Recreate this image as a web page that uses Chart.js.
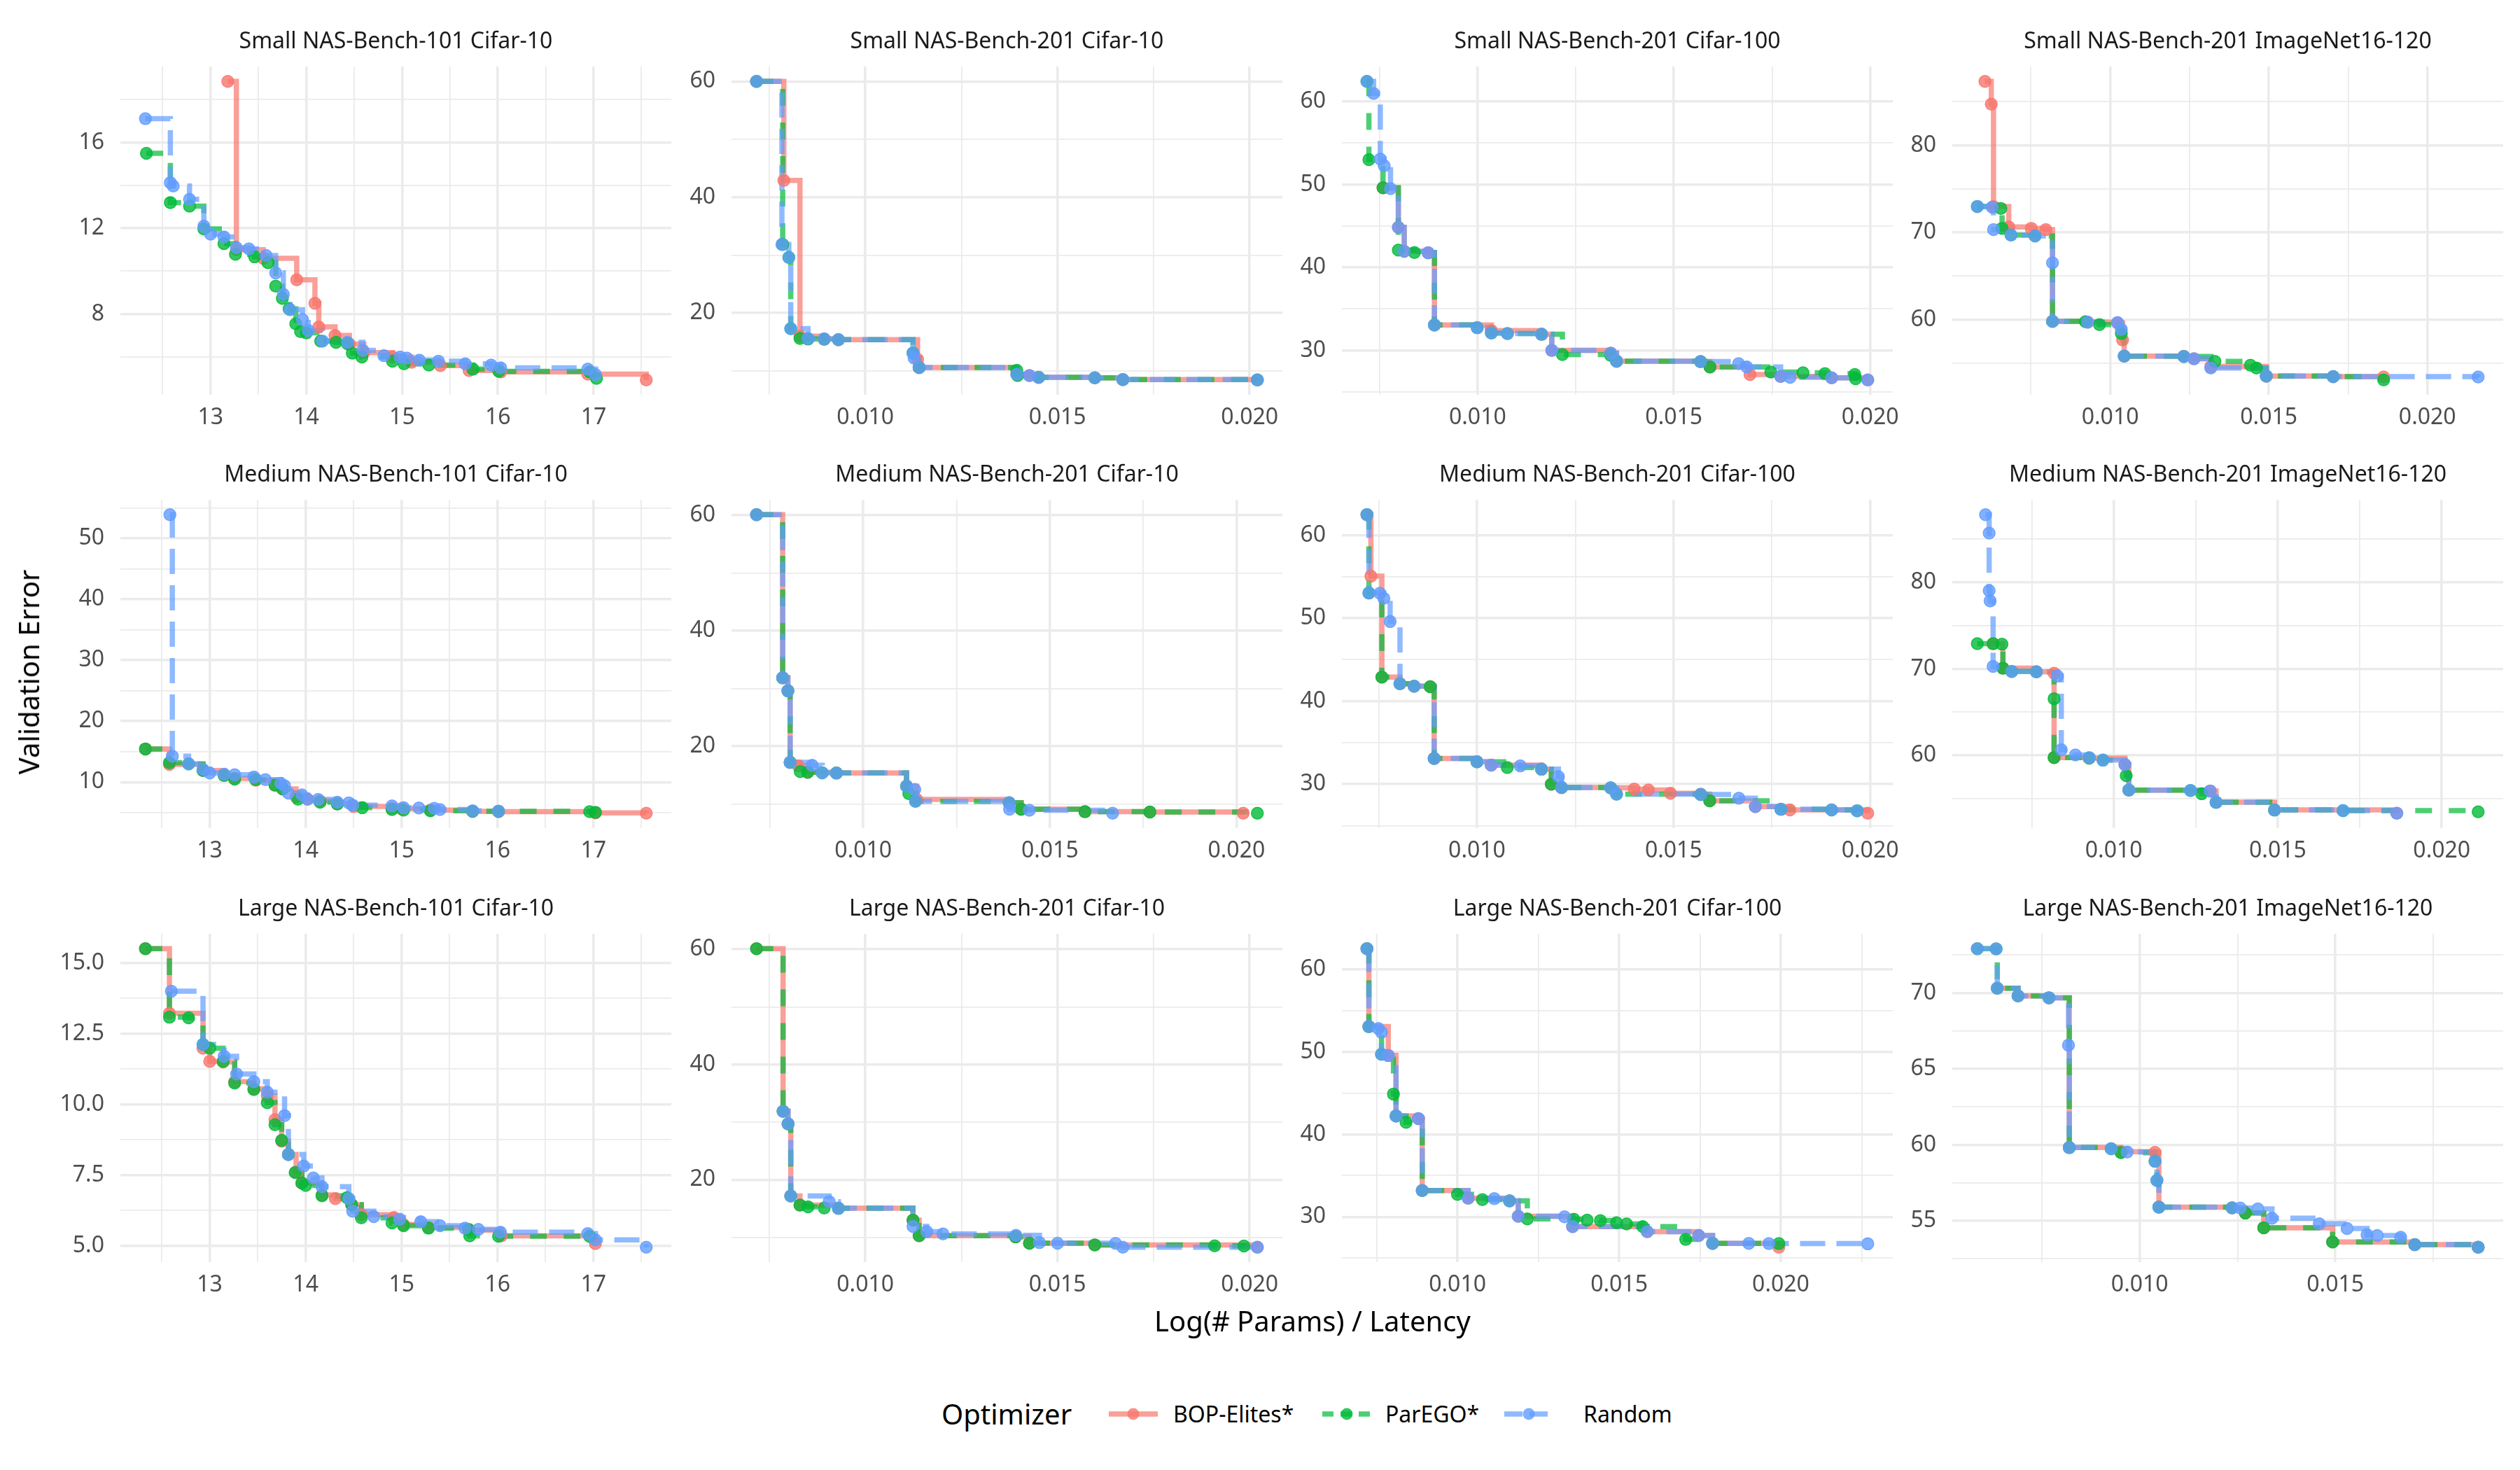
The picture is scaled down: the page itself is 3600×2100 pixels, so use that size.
<!DOCTYPE html>
<html><head><meta charset="utf-8">
<script src="https://cdn.jsdelivr.net/npm/chart.js@4.4.0/dist/chart.umd.min.js"></script>
<style>
body{margin:0;background:#fff;width:3600px;height:2100px;position:relative;overflow:hidden;font-family:'Noto Sans',sans-serif;}
canvas{position:absolute;}
.lbl{position:absolute;white-space:nowrap;color:#000;font-family:'Noto Sans',sans-serif;line-height:1;}
</style></head><body>
<script>
// ---------------- DATA ----------------
const panelTitles = [
  "Small NAS-Bench-101 Cifar-10","Small NAS-Bench-201 Cifar-10","Small NAS-Bench-201 Cifar-100","Small NAS-Bench-201 ImageNet16-120",
  "Medium NAS-Bench-101 Cifar-10","Medium NAS-Bench-201 Cifar-10","Medium NAS-Bench-201 Cifar-100","Medium NAS-Bench-201 ImageNet16-120",
  "Large NAS-Bench-101 Cifar-10","Large NAS-Bench-201 Cifar-10","Large NAS-Bench-201 Cifar-100","Large NAS-Bench-201 ImageNet16-120"
];
const seriesNames = ["BOP-Elites*","ParEGO*","Random"];

// Panel 1: Small NAS-Bench-101 Cifar-10
const p1_bop = [[13.18,18.85],[13.27,11.0],[13.55,10.6],[13.9,9.6],[14.09,8.5],[14.13,7.4],[14.3,7.0],[14.45,6.6],[14.6,6.2],[14.9,6.0],[15.1,5.75],[15.4,5.6],[15.7,5.37],[16.03,5.3],[16.94,5.2],[17.55,4.93]];
const p1_par = [[12.33,15.5],[12.58,13.2],[12.78,13.03],[12.93,11.97],[13.14,11.29],[13.26,10.79],[13.46,10.67],[13.6,10.4],[13.68,9.3],[13.75,8.73],[13.82,8.24],[13.89,7.55],[13.94,7.18],[14.0,7.12],[14.15,6.74],[14.31,6.68],[14.43,6.62],[14.48,6.18],[14.58,6.0],[14.9,5.8],[15.02,5.68],[15.28,5.62],[15.74,5.43],[16.01,5.33],[16.96,5.3],[17.03,5.0]];
const p1_rnd = [[12.32,17.11],[12.58,14.13],[12.61,13.97],[12.78,13.35],[12.93,12.1],[13.0,11.73],[13.14,11.6],[13.27,11.1],[13.4,11.04],[13.58,10.73],[13.68,9.92],[13.76,8.92],[13.83,8.2],[13.96,7.74],[14.02,7.24],[14.17,6.74],[14.43,6.68],[14.59,6.31],[14.81,6.06],[14.98,6.0],[15.05,5.95],[15.18,5.85],[15.38,5.8],[15.66,5.68],[15.93,5.62],[16.03,5.49],[16.94,5.43],[17.02,5.18]];

// Panel 2: Small NAS-Bench-201 Cifar-10
const p2_bop = [[0.00717,60.0],[0.00788,42.9],[0.0083,16.0],[0.00893,15.5],[0.0093,15.4],[0.01136,12.0],[0.0114,10.6],[0.01394,9.4],[0.01427,9.2],[0.01451,8.9],[0.01597,8.8],[0.0167,8.5],[0.0202,8.45]];
const p2_par = [[0.00717,60.0],[0.00785,31.85],[0.00801,29.6],[0.00806,17.3],[0.0083,15.6],[0.00851,15.5],[0.00893,15.45],[0.0093,15.4],[0.01124,13.1],[0.0114,10.6],[0.01394,10.1],[0.01396,9.2],[0.01451,8.9],[0.01597,8.8],[0.0167,8.5],[0.0202,8.45]];
const p2_rnd = [[0.00717,60.0],[0.00783,31.85],[0.00801,29.6],[0.00806,17.3],[0.00851,15.6],[0.00893,15.55],[0.0093,15.4],[0.01124,13.1],[0.01127,12.2],[0.0114,10.6],[0.01394,9.4],[0.01427,9.2],[0.01451,8.9],[0.01597,8.8],[0.0167,8.5],[0.0202,8.45]];

// Panel 3: Small NAS-Bench-201 Cifar-100
const p3_bop = [[0.00759,49.6],[0.00798,44.84],[0.00813,41.94],[0.00874,41.77],[0.0089,33.06],[0.01035,32.4],[0.01163,31.94],[0.01189,30.0],[0.01339,29.68],[0.01354,28.71],[0.01568,28.65],[0.01592,28.0],[0.01694,27.1],[0.01772,26.87],[0.01902,26.7],[0.01994,26.45]];
const p3_par = [[0.00718,62.42],[0.00723,53.0],[0.00759,49.6],[0.00798,42.1],[0.00839,41.8],[0.0089,33.06],[0.00999,32.74],[0.01035,32.1],[0.01076,32.03],[0.01163,31.94],[0.01216,29.5],[0.01339,29.4],[0.01354,28.71],[0.01568,28.65],[0.01592,28.0],[0.01747,27.4],[0.01829,27.3],[0.01885,27.2],[0.01961,27.1],[0.01963,26.6]];
const p3_rnd = [[0.00718,62.42],[0.00735,60.97],[0.00752,53.06],[0.00762,52.26],[0.00778,49.5],[0.00798,44.84],[0.00813,41.94],[0.00874,41.77],[0.0089,33.06],[0.00999,32.74],[0.01035,32.1],[0.01076,32.03],[0.01163,31.94],[0.01189,30.0],[0.01339,29.68],[0.01354,28.71],[0.01568,28.65],[0.01665,28.4],[0.01686,28.0],[0.01772,26.87],[0.01796,26.77],[0.01902,26.7],[0.01994,26.45]];

// Panel 4: Small NAS-Bench-201 ImageNet16-120
const p4_bop = [[0.00605,87.33],[0.00625,84.73],[0.00632,72.98],[0.0068,70.63],[0.00751,70.47],[0.00797,70.32],[0.00818,59.79],[0.00929,59.7],[0.01023,59.6],[0.01039,57.65],[0.01044,55.8],[0.01232,55.78],[0.01264,55.5],[0.01317,54.6],[0.01492,53.5],[0.01703,53.44],[0.01862,53.4]];
const p4_par = [[0.00581,72.98],[0.00655,72.76],[0.00659,70.47],[0.00687,69.7],[0.00763,69.6],[0.00818,59.79],[0.00922,59.75],[0.00966,59.42],[0.01035,58.4],[0.01044,55.8],[0.01232,55.75],[0.0133,55.2],[0.01442,54.75],[0.01461,54.44],[0.01492,53.5],[0.01703,53.44],[0.01862,53.07]];
const p4_rnd = [[0.00581,72.98],[0.00628,72.9],[0.00632,70.32],[0.00687,69.7],[0.00763,69.6],[0.00818,66.5],[0.00818,59.79],[0.00929,59.7],[0.01023,59.65],[0.01035,58.87],[0.01044,55.8],[0.01232,55.75],[0.01264,55.5],[0.01317,54.44],[0.01492,53.5],[0.01703,53.44],[0.0216,53.4]];

// Panel 5: Medium NAS-Bench-101 Cifar-10
const p5_bop = [[12.33,15.45],[12.58,12.9],[12.93,11.9],[13.15,11.1],[13.26,10.6],[13.48,10.3],[13.68,9.5],[13.76,8.9],[13.9,7.6],[14.02,7.2],[14.15,6.9],[14.33,6.5],[14.5,6.0],[14.9,5.7],[15.0,5.6],[15.3,5.4],[15.74,5.2],[16.01,5.15],[17.02,4.95],[17.55,4.9]];
const p5_par = [[12.33,15.45],[12.58,13.2],[12.78,13.0],[12.93,11.9],[13.15,11.1],[13.26,10.5],[13.48,10.4],[13.68,9.5],[13.76,8.9],[13.92,7.2],[14.15,6.7],[14.33,6.4],[14.59,5.8],[14.9,5.5],[15.02,5.4],[15.3,5.3],[15.74,5.22],[16.01,5.2],[16.96,5.15],[17.02,5.05]];
const p5_rnd = [[12.585,53.9],[12.61,14.26],[12.78,13.0],[12.93,12.1],[13.0,11.5],[13.15,11.3],[13.26,11.2],[13.46,10.85],[13.58,10.4],[13.74,9.8],[13.78,9.4],[13.82,8.2],[13.96,7.9],[14.02,7.2],[14.13,7.15],[14.33,6.7],[14.45,6.6],[14.49,6.2],[14.9,6.1],[15.02,5.8],[15.18,5.75],[15.34,5.7],[15.4,5.5],[15.74,5.3],[16.01,5.25]];

// Panel 6: Medium NAS-Bench-201 Cifar-10
const p6_bop = [[0.00714,60.1],[0.00784,31.84],[0.00798,29.6],[0.00804,17.2],[0.00826,16.6],[0.00851,15.5],[0.00928,15.35],[0.01116,13.1],[0.01143,10.8],[0.01391,10.2],[0.01423,9.1],[0.01594,8.65],[0.01768,8.6],[0.02018,8.4]];
const p6_par = [[0.00714,60.1],[0.00784,31.84],[0.00798,29.6],[0.00804,17.2],[0.00831,15.6],[0.00851,15.5],[0.0089,15.4],[0.00928,15.35],[0.01116,13.1],[0.01122,11.8],[0.0114,10.45],[0.01391,10.2],[0.01423,9.1],[0.01594,8.65],[0.01768,8.6],[0.02056,8.4]];
const p6_rnd = [[0.00714,60.1],[0.00784,31.84],[0.00798,29.6],[0.00804,17.2],[0.00863,16.7],[0.0089,15.4],[0.00928,15.35],[0.01116,13.1],[0.01138,12.5],[0.0114,10.45],[0.01391,10.2],[0.01392,9.1],[0.01445,8.9],[0.01668,8.4]];

// Panel 7: Medium NAS-Bench-201 Cifar-100
const p7_bop = [[0.0072,62.47],[0.0073,55.07],[0.00758,42.9],[0.00804,42.1],[0.0084,41.8],[0.00881,41.75],[0.00891,33.1],[0.01,32.7],[0.01036,32.3],[0.01164,31.8],[0.01189,30.0],[0.01215,29.6],[0.0134,29.55],[0.014,29.4],[0.01436,29.3],[0.01492,28.9],[0.01569,28.8],[0.01592,28.0],[0.01708,27.3],[0.01796,26.9],[0.01994,26.5]];
const p7_par = [[0.0072,62.47],[0.00725,53.04],[0.00758,42.9],[0.00804,42.1],[0.0084,41.8],[0.00881,41.75],[0.00891,33.1],[0.01,32.7],[0.01077,32.0],[0.01164,31.8],[0.01189,30.0],[0.01215,29.6],[0.0134,29.55],[0.01355,28.8],[0.01569,28.75],[0.01592,28.0],[0.01773,26.97],[0.01902,26.9],[0.01967,26.8]];
const p7_rnd = [[0.0072,62.47],[0.00725,53.04],[0.00753,53.0],[0.00763,52.4],[0.00779,49.6],[0.00804,42.1],[0.0084,41.8],[0.00891,33.1],[0.01,32.7],[0.01036,32.3],[0.0111,32.2],[0.01164,31.8],[0.01207,30.9],[0.01215,29.6],[0.0134,29.55],[0.01355,28.8],[0.01569,28.75],[0.01666,28.3],[0.01708,27.3],[0.01773,26.97],[0.01902,26.9],[0.01967,26.8]];

// Panel 8: Medium NAS-Bench-201 ImageNet16-120
const p8_bop = [[0.00632,72.9],[0.00662,70.07],[0.00764,69.65],[0.00818,69.5],[0.00818,59.76],[0.00925,59.7],[0.01034,58.95],[0.01046,56.0],[0.01294,55.9],[0.01312,54.59],[0.0149,53.7],[0.01863,53.33]];
const p8_par = [[0.00584,72.91],[0.00632,72.9],[0.00659,72.85],[0.00662,70.07],[0.00689,69.7],[0.00764,69.65],[0.00818,66.55],[0.00818,59.76],[0.00925,59.7],[0.00967,59.46],[0.01038,57.67],[0.01046,56.0],[0.01234,55.95],[0.01268,55.58],[0.01312,54.59],[0.0149,53.7],[0.01699,53.63],[0.02111,53.48]];
const p8_rnd = [[0.00609,87.8],[0.0062,85.68],[0.0062,79.04],[0.00623,77.85],[0.00632,70.28],[0.00689,69.7],[0.00764,69.65],[0.00828,69.18],[0.0084,60.66],[0.00883,60.06],[0.00925,59.76],[0.00967,59.46],[0.01034,58.95],[0.01046,56.0],[0.01234,55.95],[0.01294,55.9],[0.01312,54.59],[0.0149,53.7],[0.01699,53.63],[0.01863,53.33]];

// Panel 9: Large NAS-Bench-101 Cifar-10
const p9_bop = [[12.33,15.5],[12.58,13.22],[12.93,11.98],[13.0,11.52],[13.14,11.5],[13.26,10.8],[13.46,10.55],[13.6,10.29],[13.68,9.46],[13.75,8.7],[13.82,8.23],[13.9,7.6],[13.96,7.22],[14.17,6.8],[14.31,6.67],[14.48,6.45],[14.58,6.1],[14.92,6.0],[15.02,5.75],[15.28,5.65],[15.7,5.55],[16.04,5.35],[17.02,5.08]];
const p9_par = [[12.33,15.5],[12.58,13.08],[12.78,13.06],[12.93,12.12],[13.0,11.98],[13.14,11.52],[13.26,10.75],[13.46,10.52],[13.6,10.06],[13.68,9.28],[13.75,8.73],[13.82,8.23],[13.89,7.59],[13.96,7.22],[14.0,7.13],[14.17,6.77],[14.43,6.7],[14.48,6.45],[14.58,5.99],[14.9,5.81],[15.02,5.71],[15.28,5.62],[15.7,5.58],[15.71,5.35],[16.01,5.34],[16.96,5.33]];
const p9_rnd = [[12.6,14.0],[12.93,12.12],[13.15,11.7],[13.28,11.07],[13.46,10.8],[13.6,10.43],[13.78,9.6],[13.82,8.23],[13.98,7.82],[14.08,7.4],[14.17,7.09],[14.45,6.67],[14.49,6.22],[14.71,6.03],[14.98,5.94],[15.2,5.85],[15.4,5.71],[15.66,5.62],[15.8,5.58],[16.03,5.48],[16.94,5.43],[17.02,5.21],[17.55,4.95]];

// Panel 10: Large NAS-Bench-201 Cifar-10
const p10_bop = [[0.00717,60.1],[0.00786,31.9],[0.00799,29.7],[0.00806,17.2],[0.0083,15.6],[0.0093,15.05],[0.01124,13.0],[0.0114,10.3],[0.01391,10.1],[0.01427,9.0],[0.01597,8.7],[0.0202,8.3]];
const p10_par = [[0.00717,60.1],[0.00786,31.9],[0.00799,29.7],[0.00806,17.2],[0.0083,15.6],[0.00851,15.3],[0.00893,15.1],[0.0093,15.05],[0.01124,13.0],[0.0114,10.3],[0.01391,10.1],[0.01427,9.0],[0.01597,8.7],[0.01909,8.54],[0.01985,8.5]];
const p10_rnd = [[0.00786,31.9],[0.00799,29.7],[0.00806,17.2],[0.00906,16.2],[0.0093,15.05],[0.01124,11.9],[0.0116,11.0],[0.01202,10.6],[0.01392,10.35],[0.01453,9.1],[0.015,9.0],[0.01651,8.95],[0.0167,8.3],[0.0202,8.3]];

// Panel 11: Large NAS-Bench-201 Cifar-100
const p11_bop = [[0.0072,62.49],[0.00726,53.05],[0.00786,49.55],[0.0081,42.23],[0.00879,41.91],[0.00891,33.18],[0.01033,32.25],[0.01161,31.94],[0.01188,30.07],[0.01356,28.82],[0.01587,28.2],[0.01746,27.73],[0.01789,26.79],[0.01994,26.32]];
const p11_par = [[0.0072,62.49],[0.00726,53.05],[0.00765,49.71],[0.00802,44.88],[0.0081,42.23],[0.00841,41.45],[0.00891,33.18],[0.01,32.72],[0.01077,32.09],[0.01161,31.94],[0.01216,29.75],[0.0136,29.7],[0.01401,29.6],[0.01442,29.54],[0.01492,29.29],[0.01523,29.13],[0.01573,28.82],[0.01706,27.26],[0.01789,26.79],[0.01994,26.75]];
const p11_rnd = [[0.0072,62.49],[0.00726,53.05],[0.00755,52.83],[0.00765,52.36],[0.00765,49.71],[0.00786,49.55],[0.0081,42.23],[0.00879,41.91],[0.00891,33.18],[0.01033,32.25],[0.01114,32.2],[0.01161,31.94],[0.01188,30.07],[0.01331,30.0],[0.01356,28.82],[0.01587,28.2],[0.01746,27.73],[0.01789,26.79],[0.01901,26.78],[0.01963,26.75],[0.02269,26.73]];

// Panel 12: Large NAS-Bench-201 ImageNet16-120
const p12_bop = [[0.00636,70.31],[0.00689,69.8],[0.00768,69.68],[0.0082,59.82],[0.00952,59.55],[0.01039,59.5],[0.01049,55.9],[0.01236,55.85],[0.0127,55.51],[0.01317,54.54],[0.01493,53.6],[0.01703,53.43],[0.01865,53.26]];
const p12_par = [[0.00585,72.91],[0.00633,72.9],[0.00636,70.31],[0.00689,69.8],[0.00768,69.68],[0.0082,59.82],[0.00927,59.74],[0.00952,59.48],[0.01039,58.92],[0.01044,57.66],[0.01049,55.9],[0.01236,55.85],[0.0127,55.51],[0.01317,54.54],[0.01493,53.6],[0.01703,53.43],[0.01865,53.26]];
const p12_rnd = [[0.00585,72.91],[0.00633,72.9],[0.00636,70.31],[0.00689,69.8],[0.00768,69.68],[0.00818,66.56],[0.0082,59.82],[0.00927,59.74],[0.00968,59.53],[0.01039,58.92],[0.01044,57.66],[0.01049,55.9],[0.01236,55.85],[0.01257,55.84],[0.01302,55.78],[0.01338,55.17],[0.01459,54.8],[0.0153,54.49],[0.01581,54.08],[0.01607,54.03],[0.01667,53.91],[0.01703,53.43],[0.01865,53.26]];

// Tick labels (major ticks)
const xTicks101 = [13,14,15,16,17];
const xTicks201 = [0.010,0.015,0.020];
const yTicks_p1 = [8,12,16];
const yTicks_p2 = [20,40,60];
const yTicks_p3 = [30,40,50,60];
const yTicks_p4 = [60,70,80];
const yTicks_p5 = [10,20,30,40,50];
const yTicks_p6 = [20,40,60];
const yTicks_p7 = [30,40,50,60];
const yTicks_p8 = [60,70,80];
const yTicks_p9 = [5.0,7.5,10.0,12.5,15.0];
const yTicks_p10 = [20,40,60];
const yTicks_p11 = [30,40,50,60];
const yTicks_p12 = [55,60,65,70];

// ---------------- BUILD ----------------
const panelSeries = [
  [p1_bop,p1_par,p1_rnd],[p2_bop,p2_par,p2_rnd],[p3_bop,p3_par,p3_rnd],[p4_bop,p4_par,p4_rnd],
  [p5_bop,p5_par,p5_rnd],[p6_bop,p6_par,p6_rnd],[p7_bop,p7_par,p7_rnd],[p8_bop,p8_par,p8_rnd],
  [p9_bop,p9_par,p9_rnd],[p10_bop,p10_par,p10_rnd],[p11_bop,p11_par,p11_rnd],[p12_bop,p12_par,p12_rnd]
];
const panelYTicks = [yTicks_p1,yTicks_p2,yTicks_p3,yTicks_p4,yTicks_p5,yTicks_p6,yTicks_p7,yTicks_p8,yTicks_p9,yTicks_p10,yTicks_p11,yTicks_p12];

const SERIES_STYLE = [
  {rgb:'248,118,109', dash:[]},
  {rgb:'0,186,56', dash:[24,24]},
  {rgb:'97,156,255', dash:[36,16]}
];
const PLOT_LEFT = [172,1045,1917,2789], PLOT_TOP = [95,714,1334];
const PW = 787, PH = 469, YW = 110, TH = 75, XH = 60, RP = 60;

function tickList(majors, lo, hi){
  const step = majors[1]-majors[0];
  const out = [];
  const n = majors.length;
  for(let k=-2;k<=2*(n-1)+2;k++){
    const v = majors[0] + k*step/2;
    const vr = Math.round(v*1e9)/1e9;
    if(vr>=lo && vr<=hi) out.push({value:vr, isMinor:(k%2!==0)});
  }
  return out;
}
function extent(arrs, idx){
  let mn=Infinity,mx=-Infinity;
  arrs.forEach(a=>a.forEach(p=>{mn=Math.min(mn,p[idx]);mx=Math.max(mx,p[idx]);}));
  const pad=(mx-mn)*0.05;
  return [mn-pad,mx+pad];
}

panelTitles.forEach((title,i)=>{
  const r=Math.floor(i/4), c=i%4;
  const cv=document.createElement('canvas');
  const W=YW+PW+RP, H=TH+PH+XH;
  cv.width=W; cv.height=H;
  cv.style.left=(PLOT_LEFT[c]-YW)+'px';
  cv.style.top=(PLOT_TOP[r]-TH)+'px';
  cv.style.width=W+'px'; cv.style.height=H+'px';
  document.body.appendChild(cv);

  const ser = panelSeries[i];
  const [xmin,xmax]=extent(ser,0);
  const [ymin,ymax]=extent(ser,1);
  const isNB101 = (c===0);
  const xMaj = isNB101? xTicks101 : xTicks201;
  const yMaj = panelYTicks[i];
  const xDec = isNB101?0:3;
  const yDec = (i===8)?1:0;
  const xT = tickList(xMaj,xmin,xmax), yT = tickList(yMaj,ymin,ymax);

  const datasets=[];
  [2,1,0].forEach(s=>{
    datasets.push({
      label:seriesNames[s]+' pts',
      data:ser[s].map(p=>({x:p[0],y:p[1]})),
      showLine:false,
      pointRadius:8.5, pointHoverRadius:8.5,
      pointBackgroundColor:'rgba('+SERIES_STYLE[s].rgb+',0.8)',
      pointBorderColor:'rgba('+SERIES_STYLE[s].rgb+',0.85)',
      pointBorderWidth:1.5
    });
  });
  [2,1,0].forEach(s=>{
    datasets.push({
      label:seriesNames[s],
      data:ser[s].map(p=>({x:p[0],y:p[1]})),
      showLine:true, stepped:true, tension:0, fill:false,
      pointRadius:0, pointHoverRadius:0,
      borderColor:'rgba('+SERIES_STYLE[s].rgb+',0.7)',
      borderWidth:7.5, borderDash:SERIES_STYLE[s].dash,
      borderCapStyle:'butt', borderJoinStyle:'miter'
    });
  });

  const gridW = ctx => (ctx.tick && ctx.tick.isMinor) ? 1.8 : 3.6;
  new Chart(cv,{
    type:'line',
    data:{datasets},
    options:{
      responsive:false, animation:false, events:[],
      layout:{padding:{left:0,right:RP,top:0,bottom:0}},
      plugins:{
        legend:{display:false}, tooltip:{enabled:false},
        title:{display:true,text:title,fullSize:false,color:'#1A1A1A',
          font:{family:'Noto Sans',size:32,weight:'normal',lineHeight:1.2},
          padding:{top:21,bottom:15.6}}
      },
      scales:{
        x:{type:'linear',min:xmin,max:xmax,
          afterBuildTicks:sc=>{sc.ticks=xT.map(t=>({value:t.value,isMinor:t.isMinor}));},
          afterFit:sc=>{sc.height=XH;sc.paddingLeft=0;sc.paddingRight=0;},
          ticks:{autoSkip:false,maxRotation:0,minRotation:0,padding:14,color:'#4D4D4D',
            font:{family:'Noto Sans',size:32},
            callback:function(v,idx){const t=xT[idx];return (t&&!t.isMinor)?Number(v).toFixed(xDec):'';}},
          grid:{color:'#EBEBEB',lineWidth:gridW,drawTicks:false,tickLength:0},
          border:{display:false}
        },
        y:{type:'linear',min:ymin,max:ymax,
          afterBuildTicks:sc=>{sc.ticks=yT.map(t=>({value:t.value,isMinor:t.isMinor}));},
          afterFit:sc=>{sc.width=YW;sc.paddingTop=0;sc.paddingBottom=0;},
          ticks:{autoSkip:false,padding:23,color:'#4D4D4D',
            font:{family:'Noto Sans',size:32},
            callback:function(v,idx){const t=yT[idx];return (t&&!t.isMinor)?Number(v).toFixed(yDec):'';}},
          grid:{color:'#EBEBEB',lineWidth:gridW,drawTicks:false,tickLength:0},
          border:{display:false}
        }
      }
    }
  });
});

// ---------------- Shared labels & legend ----------------
function addLabel(text, left, top, size, extra){
  const d=document.createElement('div');
  d.className='lbl'; d.textContent=text;
  d.style.left=left+'px'; d.style.top=top+'px'; d.style.fontSize=size+'px';
  if(extra) Object.assign(d.style, extra);
  document.body.appendChild(d); return d;
}
addLabel('Validation Error', 41, 960, 40, {transform:'translate(-50%,-50%) rotate(-90deg)'});
addLabel('Log(# Params) / Latency', 1875, 1887, 40, {transform:'translate(-50%,-50%)'});
addLabel('Optimizer', 1345, 2020, 40, {transform:'translateY(-50%)'});
const legendKeysX = [1580,1885,2145];
const legendTextX = [1676,1979,2262];
seriesNames.forEach((nm,s)=>{
  const st=SERIES_STYLE[s];
  const ns='http://www.w3.org/2000/svg';
  const svg=document.createElementNS(ns,'svg');
  svg.setAttribute('width','78'); svg.setAttribute('height','40');
  svg.style.position='absolute'; svg.style.left=legendKeysX[s]+'px'; svg.style.top=(2020-20)+'px';
  const ln=document.createElementNS(ns,'line');
  ln.setAttribute('x1','4');ln.setAttribute('x2','74');ln.setAttribute('y1','20');ln.setAttribute('y2','20');
  ln.setAttribute('stroke','rgba('+st.rgb+',0.7)'); ln.setAttribute('stroke-width','7.5');
  if(st.dash.length) ln.setAttribute('stroke-dasharray', s===1?'16,10':'26,10');
  svg.appendChild(ln);
  const ci=document.createElementNS(ns,'circle');
  ci.setAttribute('cx','39');ci.setAttribute('cy','20');ci.setAttribute('r','8.5');
  ci.setAttribute('fill','rgba('+st.rgb+',0.8)');
  svg.appendChild(ci);
  document.body.appendChild(svg);
  addLabel(nm, legendTextX[s], 2020, 32, {transform:'translateY(-50%)'});
});
</script></body></html>
